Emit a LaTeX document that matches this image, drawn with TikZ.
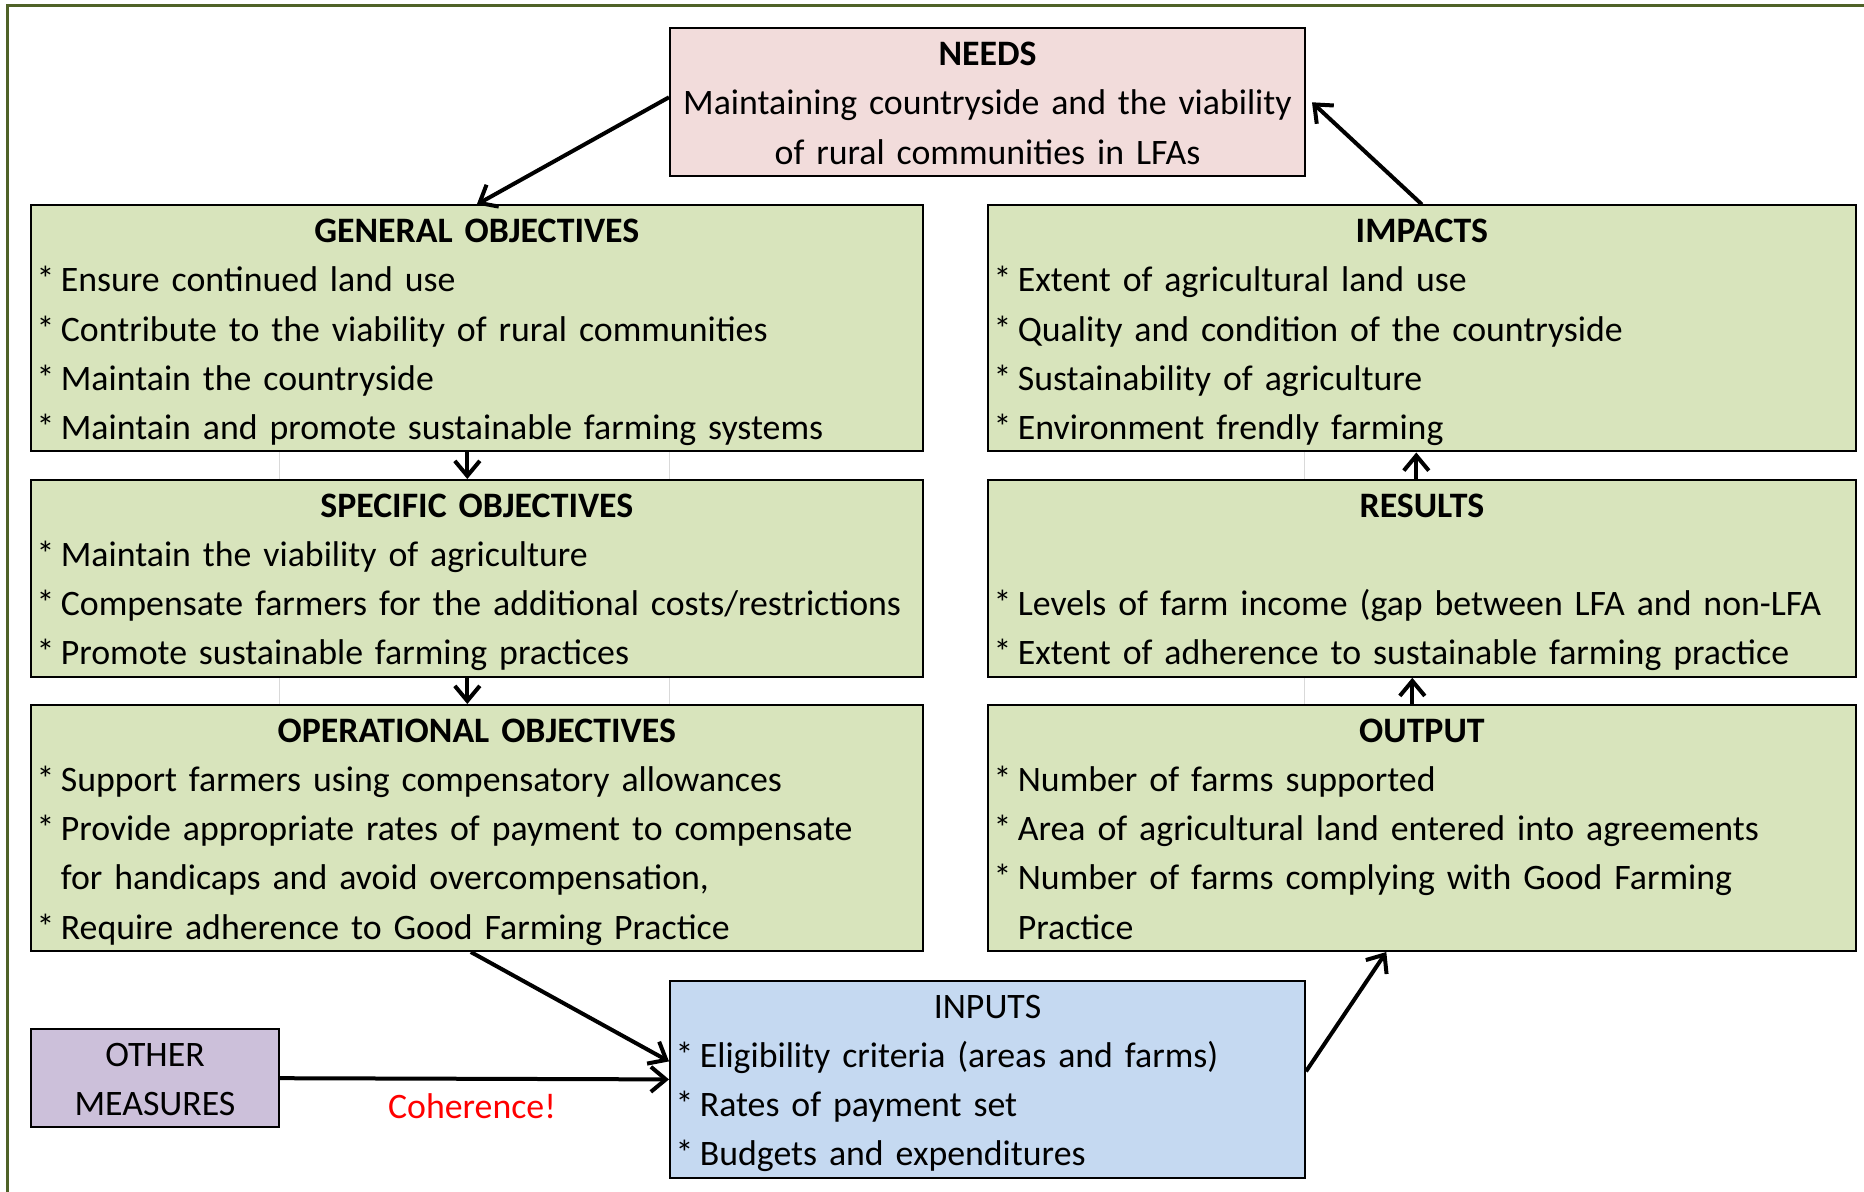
\documentclass[tikz,border=0pt]{standalone}
\usepackage{fontspec}
\setmainfont{Carlito}
\usepackage{tikz}
\usepackage{xcolor}
\usetikzlibrary{arrows.meta}
\definecolor{boxgreen}{HTML}{D8E4BC}
\definecolor{needpink}{HTML}{F2DCDB}
\definecolor{inpblue}{HTML}{C5D9F1}
\definecolor{othpurple}{HTML}{CCC0DA}
\definecolor{frameolive}{HTML}{4F6228}
\definecolor{gridgrey}{HTML}{D9D9D9}
\newcommand{\rs}{\rule[-6pt]{0pt}{24.6pt}}
\newcommand{\ttl}[1]{\rs\makebox[\linewidth]{\bfseries #1}}
\newcommand{\ctr}[1]{\rs\makebox[\linewidth]{#1}}
\newcommand{\itm}[1]{\rs\mbox{*\hspace{0.18em}#1}}
\newcommand{\cnt}[1]{\rs\mbox{\hphantom{*\hspace{0.18em}}#1}}

\begin{document}
\begin{tikzpicture}[x=0.5pt,y=-0.5pt,
	box/.style={draw,line width=1pt,anchor=north west,inner xsep=2.8pt,inner ysep=0pt,align=left,font=\fontsize{17.9}{24.6}\selectfont},
	arr/.style={line width=2pt,-{Straight Barb[length=7.5pt,width=12.5pt]}},
	gridline/.style={gridgrey,line width=0.5pt}]
		\useasboundingbox (0,0) rectangle (1864,1192);
		\draw[frameolive,line width=1.5pt] (7,1192) -- (7,6) -- (1864,6);
		\draw[gridline] (279,451) -- (279,479);
		\draw[gridline] (669,451) -- (669,479);
		\draw[gridline] (279,676) -- (279,704);
		\draw[gridline] (669,676) -- (669,704);
		\draw[gridline] (1304,451) -- (1304,479);
		\draw[gridline] (1304,676) -- (1304,704);
		\node[box,fill=needpink,text width=311.9pt] (needs) at (669,27.5) {\ttl{NEEDS}\\
			\ctr{Maintaining countryside and the viability}\\
			\ctr{of rural communities in LFAs}};
		\node[box,fill=boxgreen,text width=440.2pt] (gen) at (30,204.5) {\ttl{GENERAL OBJECTIVES}\\
			\itm{Ensure continued land use}\\
			\itm{Contribute to the viability of rural communities}\\
			\itm{Maintain the countryside}\\
			\itm{Maintain and promote sustainable farming systems}};
		\node[box,fill=boxgreen,text width=440.2pt] (spec) at (30,479) {\ttl{SPECIFIC OBJECTIVES}\\
			\itm{Maintain the viability of agriculture}\\
			\itm{Compensate farmers for the additional costs/restrictions}\\
			\itm{Promote sustainable farming practices}};
		\node[box,fill=boxgreen,text width=440.2pt] (oper) at (30,704) {\ttl{OPERATIONAL OBJECTIVES}\\
			\itm{Support farmers using compensatory allowances}\\
			\itm{Provide appropriate rates of payment to compensate}\\
			\cnt{for handicaps and avoid overcompensation,}\\
			\itm{Require adherence to Good Farming Practice}};
		\node[box,fill=boxgreen,text width=428.3pt] (imp) at (987,204.5) {\ttl{IMPACTS}\\
			\itm{Extent of agricultural land use}\\
			\itm{Quality and condition of the countryside}\\
			\itm{Sustainability of agriculture}\\
			\itm{Environment frendly farming}};
		\node[box,fill=boxgreen,text width=428.3pt] (res) at (987,479) {\ttl{RESULTS}\\
			\rs\\
			\itm{Levels of farm income (gap between LFA and non-LFA}\\
			\itm{Extent of adherence to sustainable farming practice}};
		\node[box,fill=boxgreen,text width=428.3pt] (out) at (987,704) {\ttl{OUTPUT}\\
			\itm{Number of farms supported}\\
			\itm{Area of agricultural land entered into agreements}\\
			\itm{Number of farms complying with Good Farming}\\
			\cnt{Practice}};
		\node[box,fill=inpblue,text width=311.9pt] (inp) at (669,980) {\ctr{INPUTS}\\
			\itm{Eligibility criteria (areas and farms)}\\
			\itm{Rates of payment set}\\
			\itm{Budgets and expenditures}};
		\node[box,fill=othpurple,text width=118.4pt] (oth) at (30,1028) {\ctr{OTHER}\\
			\ctr{MEASURES}};
		\node[red,font=\fontsize{17.9}{24.6}\selectfont] (coh) at (472,1106) {Coherence!};
		\draw[arr] ([yshift=2.5pt]needs.west) -- (gen.north);
		\draw[arr] (imp.north) -- ([xshift=3pt]needs.east);
		\draw[arr] ([xshift=-4.75pt]gen.south) -- ([xshift=-4.75pt]spec.north);
		\draw[arr] ([xshift=-4.75pt]spec.south) -- ([xshift=-4.75pt]oper.north);
		\draw[arr] ([xshift=-2.8pt]res.north) -- ([xshift=-2.8pt]imp.south);
		\draw[arr] ([xshift=-4.8pt]out.north) -- ([xshift=-4.8pt]res.south);
		\draw[arr] ([xshift=-3pt]oper.south) -- ([yshift=9pt]inp.west);
		\draw[arr] (oth.east) -- (inp.west);
		\draw[arr] ([yshift=4pt]inp.east) -- ([xshift=-17.8pt]out.south);
	\end{tikzpicture}
\end{document}
